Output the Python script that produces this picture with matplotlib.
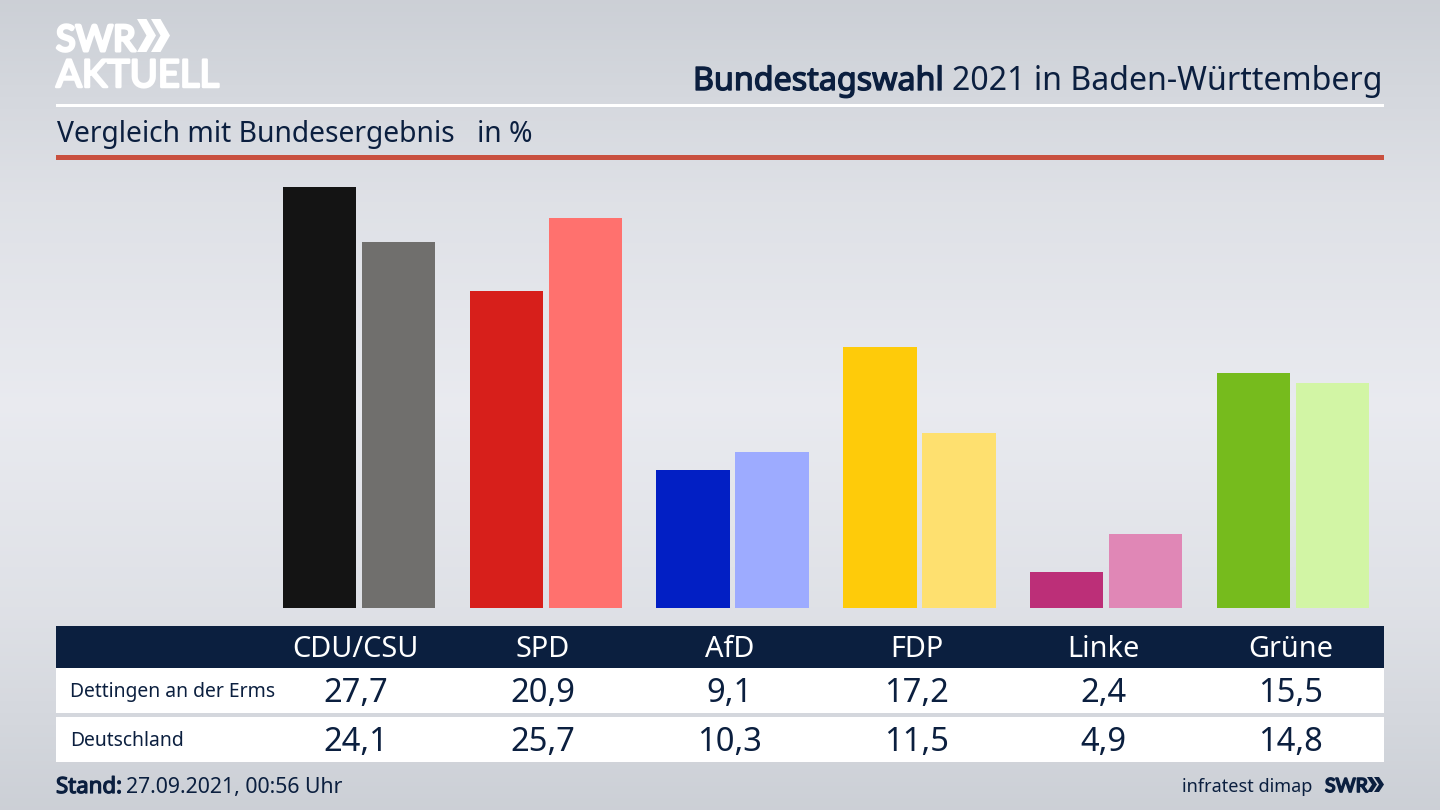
import numpy as np
from matplotlib import patheffects as pe
from matplotlib import pyplot as pl
from matplotlib.patches import Polygon, Rectangle

parties = ['CDU/CSU', 'SPD', 'AfD', 'FDP', 'Linke', 'Grüne']
region_name = 'Dettingen an der Erms'
country_name = 'Deutschland'
region_values = [27.7, 20.9, 9.1, 17.2, 2.4, 15.5]
country_values = [24.1, 25.7, 10.3, 11.5, 4.9, 14.8]
region_colors = ['#141414', '#d71f1b', '#021fc4', '#fecb0a', '#bc2f78', '#76bb1d']
country_colors = ['#706f6d', '#ff716e', '#9dabff', '#fee06f', '#e087b6', '#d2f5a5']

navy = '#0b1f3f'
pl.rcParams['font.family'] = ['Noto Sans', 'DejaVu Sans']


def fmt(v):
    return f'{v:.1f}'.replace('.', ',')


def heavy(color, width):
    # the installed fonts render one weight here, so thicken with a stroke
    return [pe.withStroke(linewidth=width, foreground=color)]


def chevron(axis, x0, w, y0, y1, color):
    mid_y = (y0 + y1) / 2
    axis.add_patch(Polygon([(x0, y0), (x0 + w * 0.5, y0), (x0 + w, mid_y),
                            (x0 + w * 0.5, y1), (x0, y1), (x0 + w * 0.5, mid_y)],
                           closed=True, fc=color, ec='none', zorder=3))


fig = pl.figure(figsize=(14.4, 8.1), dpi=100)

# page in pixel coordinates
ax = fig.add_axes([0, 0, 1, 1])
ax.set_xlim(0, 1440)
ax.set_ylim(810, 0)
ax.axis('off')

# grey background, lightest around the middle
yy = np.linspace(0, 1, 200)
shade = np.interp(yy, [0, 0.25, 0.5, 0.75, 1], [0, 0.65, 1, 0.65, 0])
top = np.array([0.80, 0.815, 0.84])
mid = np.array([0.915, 0.92, 0.94])
grad = (top + (mid - top) * shade[:, None])[:, None, :]
ax.imshow(grad, extent=[0, 1440, 810, 0], aspect='auto', zorder=0)

# logo
ax.text(56, 51, 'SWR', color='white', fontsize=26, family='Lato',
        path_effects=heavy('white', 2.2), zorder=3)
chevron(ax, 137, 19, 19, 52, 'white')
chevron(ax, 151, 19, 19, 52, 'white')
ax.text(56, 87, 'AKTUELL', color='white', fontsize=27.5, family='Lato',
        path_effects=heavy('white', 1.8), zorder=3)

# header
ax.text(1383, 90, '2021 in Baden-Württemberg', color=navy, fontsize=23.1,
        ha='right', zorder=3)
ax.text(944, 90, 'Bundestagswahl', color=navy, fontsize=23.2, ha='right',
        path_effects=heavy(navy, 1.0), zorder=3)
ax.add_patch(Rectangle((56, 104), 1328, 3, fc='white', ec='none', zorder=2))
ax.text(57, 142, 'Vergleich mit Bundesergebnis', color=navy, fontsize=20.35, zorder=3)
ax.text(477, 142, 'in %', color=navy, fontsize=20.35, zorder=3)
ax.add_patch(Rectangle((56, 155), 1328, 5, fc='#c9503f', ec='none', zorder=2))

# table
ax.add_patch(Rectangle((56, 626), 1328, 42, fc=navy, ec='none', zorder=2))
ax.add_patch(Rectangle((56, 668), 1328, 45, fc='white', ec='none', zorder=2))
ax.add_patch(Rectangle((56, 717), 1328, 45, fc='white', ec='none', zorder=2))
ax.text(70, 692, region_name, color=navy, fontsize=13.9, va='center', zorder=3)
ax.text(70, 741, country_name, color=navy, fontsize=13.9, va='center', zorder=3)
for i, name in enumerate(parties):
    x = 355.5 + 187 * i
    ax.text(x, 657, name, color='white', fontsize=20.8, ha='center', zorder=3)
    ax.text(x, 702, fmt(region_values[i]), color=navy, fontsize=23.5, ha='center', zorder=3)
    ax.text(x, 751, fmt(country_values[i]), color=navy, fontsize=23.5, ha='center', zorder=3)

# footer
ax.text(56, 793, 'Stand:', color=navy, fontsize=16, path_effects=heavy(navy, 0.9), zorder=3)
ax.text(126, 793, '27.09.2021, 00:56 Uhr', color=navy, fontsize=15.3, zorder=3)
ax.text(1312, 792, 'infratest dimap', color=navy, fontsize=13, ha='right', zorder=3)
ax.text(1325, 792, 'SWR', color=navy, fontsize=14, family='Lato',
        path_effects=heavy(navy, 1.2), zorder=3)
chevron(ax, 1367, 10, 777, 792, navy)
chevron(ax, 1374, 10, 777, 792, navy)

# bars on their own axes, same horizontal span as the page
bars = fig.add_axes([0, 1 - 608 / 810, 1, 448 / 810])
bars.patch.set_alpha(0)
bars.axis('off')
px_per_group = 186.8
bars.set_xlim(-359 / px_per_group, (1440 - 359) / px_per_group)
bars.set_ylim(0, 448 / 15.19)
idx = np.arange(len(parties))
bars.bar(idx - 0.2115, region_values, width=0.393, color=region_colors)
bars.bar(idx + 0.2115, country_values, width=0.393, color=country_colors)

fig.savefig('out.png', dpi=100)
